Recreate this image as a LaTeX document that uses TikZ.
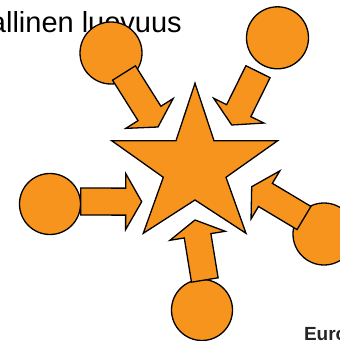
\documentclass[tikz,border=0pt]{standalone}
\usepackage{fontspec}
\setmainfont{Liberation Sans}
\usepackage{tikz}
\usetikzlibrary{calc}
\definecolor{cBlobFill}{HTML}{F7941E}
\definecolor{cBlobLine}{HTML}{000000}

\begin{document}
\begin{tikzpicture}[x=1pt, y=1pt,
  blob/.style={circle, draw=cBlobLine, fill=cBlobFill, line width=1.3pt, inner sep=0pt},
  blockshape/.style={draw=cBlobLine, fill=cBlobFill, line width=1.3pt, line join=miter},
  titletext/.style={font=\fontsize{29}{32}\selectfont, inner sep=0pt},
  logotext/.style={font=\bfseries\fontsize{19}{22}\selectfont, text=black!85, inner sep=0pt}
]
\useasboundingbox (0,0) rectangle (340,341);
\clip (0,0) rectangle (340,341);

\node[titletext, anchor=base east] (head) at (182,308) {allinen luovuus};
\node[logotext, anchor=base west] (euro) at (303.8,1) {Euro};

% the five circles
\node[blob, minimum size=62pt] (ctl) at (111,288) {};
\node[blob, minimum size=62pt] (ctr) at (277.5,303.2) {};
\node[blob, minimum size=61pt] (cl) at (50,137) {};
\node[blob, minimum size=62pt] (cr) at (324,107) {};
\node[blob, minimum size=61pt] (cb) at (202,31) {};

% block arrows: tail -> tip
\foreach \n/\sx/\sy/\tx/\ty in {tl/124/268/158/214, tr/258/269.3/231.7/216,
    l/80.7/139.5/141.7/139.3, r/304/123/251.7/154.3, b/204.8/61/195/121}{
  \coordinate (\n-s) at (\sx,\sy);
  \coordinate (\n-t) at (\tx,\ty);
  \coordinate (\n-b) at ($(\n-t)!16pt!(\n-s)$);
  \draw[blockshape] ($(\n-s)!13.5pt!90:(\n-t)$) -- ($(\n-b)!13.5pt!-90:(\n-s)$)
    -- ($(\n-b)!28pt!-90:(\n-s)$) -- (\n-t) -- ($(\n-b)!28pt!90:(\n-s)$)
    -- ($(\n-b)!13.5pt!90:(\n-s)$) -- ($(\n-s)!13.5pt!-90:(\n-t)$) -- cycle;
}

% the star
\draw[blockshape] (195,257.7) -- (214,200.3) -- (277.7,200.3) -- (226,163.7)
  -- (246,107.7) -- (195,141) -- (143.3,107.7) -- (163.3,163.7)
  -- (111.7,200.3) -- (176,200.3) -- cycle;
\end{tikzpicture}
\end{document}
